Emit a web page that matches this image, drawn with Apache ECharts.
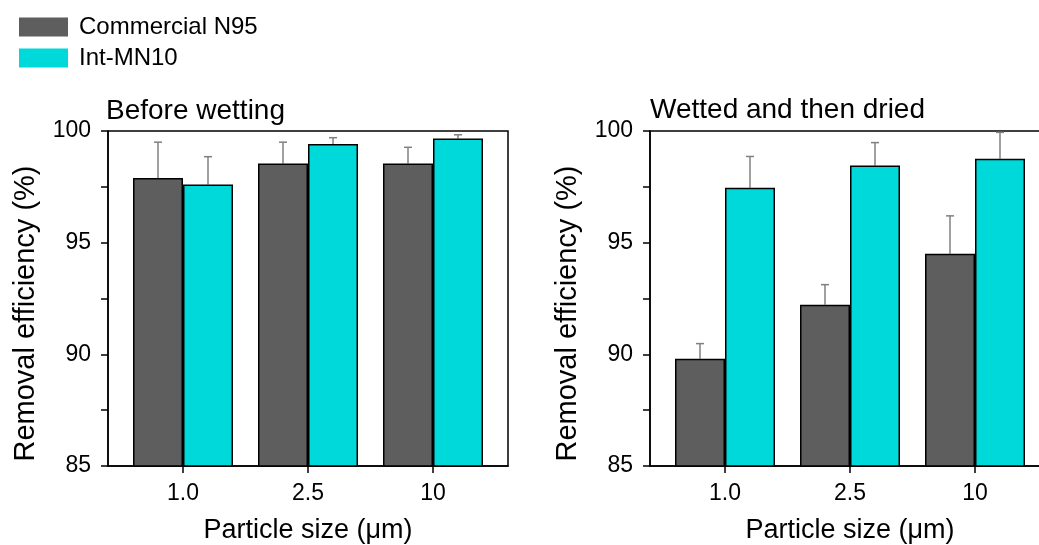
<!DOCTYPE html>
<html>
<head>
<meta charset="utf-8">
<script src="https://cdn.jsdelivr.net/npm/echarts@6/dist/echarts.min.js"></script>
<style>
  html, body { margin: 0; padding: 0; background: #fff; }
  #removal-efficiency { width: 1039px; height: 545px; }
</style>
</head>
<body>
<div id="removal-efficiency"></div>
<script>
// particle sizes (um)
const sizes = ["1.0", "2.5", "10"];
const seriesNames = ["Commercial N95", "Int-MN10"];
const yTicks = [85, 90, 95, 100];

// before wetting
const beforeN95 = [97.9, 98.55, 98.55];
const beforeN95Err = [1.6, 0.95, 0.72];
const beforeMN10 = [97.6, 99.42, 99.66];
const beforeMN10Err = [1.25, 0.28, 0.17];

// wetted and then dried
const wettedN95 = [89.8, 92.22, 94.5];
const wettedN95Err = [0.68, 0.9, 1.7];
const wettedMN10 = [97.46, 98.46, 98.76];
const wettedMN10Err = [1.4, 1.02, 1.18];

const FONT = "Liberation Sans";
const BAR_W = 50;
const COLORS = ["#5e5e5e", "#00d9d9"];

let chartDom = echarts.init(document.getElementById("removal-efficiency"));

function pairs(values) {
  return values.map((v, i) => [i + 1, v]);
}

function errData(values, errs) {
  return values.map((v, i) => [i + 1, v, v + errs[i]]);
}

function xAxisFor(gridIndex) {
  return {
    type: "value",
    gridIndex: gridIndex,
    min: 0.4,
    max: 3.6,
    name: "Particle size (\u03bcm)",
    nameLocation: "middle",
    nameGap: 51,
    nameTextStyle: { fontFamily: FONT, fontSize: 27, color: "#000" },
    splitLine: { show: false },
    axisLine: { lineStyle: { color: "#000", width: 1.5 } },
    axisTick: {
      customValues: [1, 2, 3],
      length: 7,
      lineStyle: { color: "#000", width: 1.5 },
    },
    axisLabel: {
      customValues: [1, 2, 3],
      margin: 16,
      fontFamily: FONT,
      fontSize: 23,
      color: "#000",
      formatter: (v) => sizes[Math.round(v) - 1],
    },
  };
}

function yAxisFor(gridIndex) {
  return {
    type: "value",
    gridIndex: gridIndex,
    min: yTicks[0],
    max: yTicks[yTicks.length - 1],
    interval: 5,
    name: "Removal efficiency (%)",
    nameLocation: "middle",
    nameGap: 68,
    nameTextStyle: {
      fontFamily: FONT,
      fontSize: 29,
      color: "#000",
      padding: [0, 30, 0, 0],
    },
    splitLine: { show: false },
    axisLine: { show: true, lineStyle: { color: "#000", width: 1.5 } },
    axisTick: { length: 7, lineStyle: { color: "#000", width: 1.5 } },
    minorTick: {
      show: true,
      splitNumber: 2,
      length: 7,
      lineStyle: { color: "#000", width: 1.5 },
    },
    axisLabel: {
      margin: 17,
      fontFamily: FONT,
      fontSize: 23,
      color: "#000",
    },
  };
}

function barSeries(name, values, idx, colorIdx) {
  return {
    name: name,
    type: "bar",
    xAxisIndex: idx,
    yAxisIndex: idx,
    barWidth: BAR_W,
    barGap: "0%",
    data: pairs(values),
    itemStyle: {
      color: COLORS[colorIdx],
      borderColor: "#000",
      borderWidth: 1.5,
    },
  };
}

// upper error whisker, centred on its bar
function errSeries(values, errs, idx, offset) {
  return {
    type: "custom",
    xAxisIndex: idx,
    yAxisIndex: idx,
    z: 1,
    silent: true,
    data: errData(values, errs),
    renderItem: function (params, api) {
      let base = api.coord([api.value(0), api.value(1)]);
      let top = api.coord([api.value(0), api.value(2)]);
      let x = base[0] + offset;
      let style = { stroke: "#808080", lineWidth: 1.5 };
      return {
        type: "group",
        children: [
          { type: "line", shape: { x1: x, y1: base[1], x2: x, y2: top[1] }, style: style },
          { type: "line", shape: { x1: x - 4, y1: top[1], x2: x + 4, y2: top[1] }, style: style },
        ],
      };
    },
  };
}

chartDom.setOption({
  animation: false,
  backgroundColor: "#fff",
  title: [
    {
      text: "Before wetting",
      left: 106,
      top: 97,
      padding: 0,
      textStyle: { fontFamily: FONT, fontSize: 28, fontWeight: "normal", color: "#000" },
    },
    {
      text: "Wetted and then dried",
      left: 650,
      top: 96,
      padding: 0,
      textStyle: { fontFamily: FONT, fontSize: 28, fontWeight: "normal", color: "#000" },
    },
  ],
  legend: {
    data: seriesNames,
    orient: "vertical",
    left: 19,
    top: 15,
    padding: 0,
    icon: "rect",
    itemWidth: 49,
    itemHeight: 19,
    itemGap: 7,
    itemStyle: { borderWidth: 0 },
    textStyle: { fontFamily: FONT, fontSize: 24, color: "#000", padding: [0, 0, 0, 6] },
  },
  grid: [
    {
      left: 108,
      top: 131,
      width: 400,
      bottom: 79,
      outerBoundsMode: "none",
      show: true,
      borderColor: "#000",
      borderWidth: 1.5,
    },
    {
      left: 650,
      top: 131,
      width: 400,
      bottom: 79,
      outerBoundsMode: "none",
      show: true,
      borderColor: "#000",
      borderWidth: 1.5,
    },
  ],
  xAxis: [xAxisFor(0), xAxisFor(1)],
  yAxis: [yAxisFor(0), yAxisFor(1)],
  series: [
    barSeries(seriesNames[0], beforeN95, 0, 0),
    barSeries(seriesNames[1], beforeMN10, 0, 1),
    errSeries(beforeN95, beforeN95Err, 0, -BAR_W / 2),
    errSeries(beforeMN10, beforeMN10Err, 0, BAR_W / 2),
    barSeries(seriesNames[0], wettedN95, 1, 0),
    barSeries(seriesNames[1], wettedMN10, 1, 1),
    errSeries(wettedN95, wettedN95Err, 1, -BAR_W / 2),
    errSeries(wettedMN10, wettedMN10Err, 1, BAR_W / 2),
  ],
});

window.addEventListener("resize", () => {
  chartDom.resize();
});
</script>
</body>
</html>
